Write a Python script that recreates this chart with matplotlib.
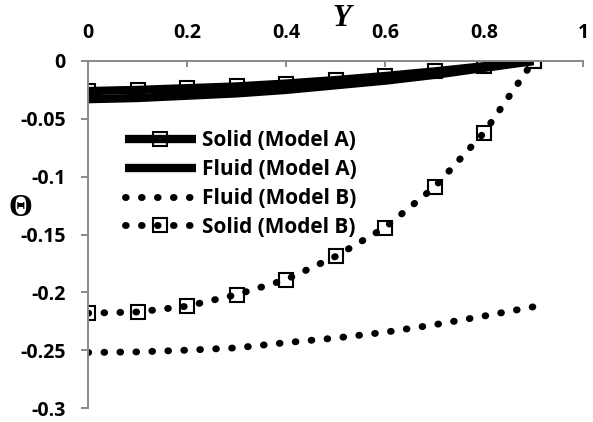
#!/usr/bin/env python3
import matplotlib
matplotlib.use("Agg")
import matplotlib.pyplot as plt
from matplotlib.ticker import MultipleLocator, FormatStrFormatter

# dimensionless temperature profiles along Y
y_pos = [0.0, 0.1, 0.2, 0.3, 0.4, 0.5, 0.6, 0.7, 0.8, 0.9]
solid_a = [-0.026, -0.025, -0.0235, -0.022, -0.0195, -0.0165, -0.013, -0.009, -0.0045, 0.0]
fluid_a = [-0.033, -0.032, -0.030, -0.028, -0.025, -0.021, -0.017, -0.012, -0.006, 0.0]
fluid_b = [-0.252, -0.2515, -0.250, -0.248, -0.2435, -0.2395, -0.2345, -0.228, -0.2205, -0.2125]
solid_b = [-0.218, -0.217, -0.212, -0.202, -0.189, -0.169, -0.144, -0.109, -0.062, 0.0]

labels = ["Solid (Model A)", "Fluid (Model A)", "Fluid (Model B)", "Solid (Model B)"]

plt.rcParams['font.family'] = ['Open Sans', 'DejaVu Sans']
plt.rcParams['font.weight'] = 'bold'
plt.rcParams['axes.unicode_minus'] = False

AXIS_GREY = "#898989"
DOTS = (0, (0.1, 2.2))


def main():
    fig = plt.figure(figsize=(5.93, 4.22), dpi=100)
    ax = fig.add_axes([88 / 593, 14 / 422, 495 / 593, 347 / 422])

    ax.plot(y_pos, solid_a, color="black", lw=6, solid_capstyle="butt",
            marker="s", ms=9.5, mew=1.5, mfc="none", mec="black", label=labels[0])
    ax.plot(y_pos, fluid_a, color="black", lw=6, solid_capstyle="butt", label=labels[1])
    ax.plot(y_pos, fluid_b, color="black", lw=5, linestyle=DOTS,
            dash_capstyle="round", label=labels[2])
    ax.plot(y_pos, solid_b, color="black", lw=5, linestyle=DOTS,
            dash_capstyle="round", marker="s", ms=10, mew=1.5, mfc="none",
            mec="black", label=labels[3])

    ax.set_xlim(0, 1)
    ax.set_ylim(-0.3, 0)

    # axis line sits at Y=0 on top, the Theta axis on the left
    for side in ("right", "bottom"):
        ax.spines[side].set_visible(False)
    for side in ("top", "left"):
        ax.spines[side].set_color(AXIS_GREY)
        ax.spines[side].set_linewidth(1.4)

    ax.xaxis.tick_top()
    ax.xaxis.set_major_locator(MultipleLocator(0.2))
    ax.yaxis.set_major_locator(MultipleLocator(0.05))
    ax.xaxis.set_major_formatter(FormatStrFormatter("%g"))
    ax.yaxis.set_major_formatter(FormatStrFormatter("%g"))
    ax.tick_params(axis="x", direction="in", length=4.5, width=1.4, color=AXIS_GREY,
                   pad=13, labelsize=14)
    ax.tick_params(axis="y", direction="out", length=5, width=1.4, color=AXIS_GREY,
                   pad=11, labelsize=14)

    fig.text(342 / 593, 1 - 19 / 422, "Y", family="Liberation Serif", style="italic",
             weight="bold", fontsize=22, ha="center", va="center")
    fig.text(20 / 593, 1 - 208 / 422, "\u0398", family="Liberation Serif",
             weight="bold", fontsize=22, ha="center", va="center")

    ax.legend(loc="upper left", bbox_to_anchor=(125 / 593, 1 - 130 / 422),
              bbox_transform=fig.transFigure, frameon=False, fontsize=15,
              borderpad=0, borderaxespad=0, handlelength=3.4, handletextpad=0.3,
              labelspacing=0.38, numpoints=1)

    fig.savefig("out.png", dpi=100)


if __name__ == "__main__":
    main()
